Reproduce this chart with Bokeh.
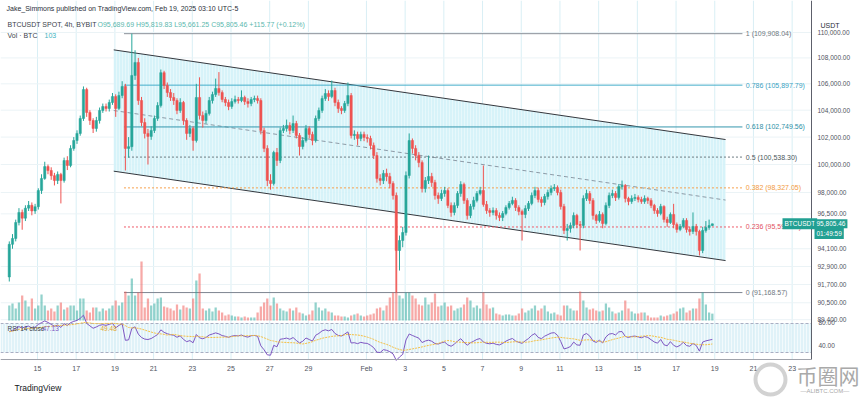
import numpy as np
import pandas as pd
from bokeh.plotting import figure
from bokeh.models import Range1d, LinearScale, ColumnDataSource, Label, BoxAnnotation
from bokeh.core.properties import value
from bokeh.embed import file_html
from bokeh.resources import INLINE

# ---------------- data (prices in thousands of USDT) ----------------
candle_start = "2025-01-13 13:00"   # first 4h candle (UTC-5)
first_open_k = 92.20
close_k = [
    94.40, 94.80, 95.90, 96.60, 96.20, 96.90, 97.10, 96.70, 97.00, 98.14,
    99.00, 99.85, 99.57, 99.20, 98.85, 99.29, 98.85, 100.29, 99.93, 101.17,
    101.75, 102.27, 103.38, 105.56, 103.83, 103.23, 102.64, 103.23, 103.98, 104.28,
    104.13, 104.58, 105.03, 104.13, 105.11, 105.80, 101.17, 101.30, 106.64, 107.65,
    104.73, 103.08, 102.27, 102.05, 102.49, 103.38, 104.35, 106.86, 105.88, 105.33,
    104.96, 104.73, 103.98, 104.58, 103.23, 102.27, 102.64, 101.75, 104.96, 103.61,
    103.23, 103.76, 104.73, 105.18, 105.64, 105.33, 104.81, 104.58, 104.28, 104.65,
    104.81, 104.73, 104.96, 104.65, 104.50, 104.81, 104.88, 104.73, 102.49, 101.17,
    98.85, 98.64, 100.87, 100.29, 102.49, 102.64, 102.86, 102.49, 103.00, 102.12,
    101.31, 101.75, 102.64, 102.20, 101.75, 103.38, 103.98, 104.88, 105.26, 105.03,
    105.49, 104.58, 104.13, 103.98, 104.50, 105.11, 102.12, 102.20, 101.90, 102.20,
    101.97, 101.90, 101.39, 100.65, 98.99, 98.85, 99.36, 99.14, 98.64, 97.79,
    93.98, 94.66, 95.21, 99.21, 101.75, 101.17, 100.65, 100.14, 98.28, 98.85,
    99.14, 98.71, 97.79, 97.58, 97.93, 98.14, 97.09, 96.60, 97.09, 97.93,
    98.57, 97.44, 96.39, 97.02, 97.44, 97.93, 98.14, 97.16, 96.73, 96.60,
    96.73, 96.39, 96.25, 96.53, 96.94, 97.23, 97.44, 96.94, 96.67, 96.46,
    96.87, 97.23, 97.79, 98.14, 97.51, 97.30, 97.72, 98.00, 98.28, 98.35,
    98.00, 97.02, 95.35, 95.49, 95.70, 96.39, 95.76, 95.70, 97.58, 97.93,
    97.44, 96.39, 96.04, 96.46, 95.83, 97.09, 97.79, 97.93, 97.65, 98.42,
    98.49, 97.58, 97.37, 97.58, 97.65, 97.51, 97.37, 97.58, 97.44, 97.09,
    96.73, 96.53, 97.02, 96.11, 95.90, 96.46, 95.76, 95.42, 95.63, 96.04,
    95.42, 95.28, 95.63, 95.28, 93.98, 95.35, 95.56, 95.68969, 95.80546,
]
high_k = [
    94.60, 95.10, 96.10, 96.90, 96.80, 97.10, 97.40, 97.30, 97.20, 98.30,
    99.30, 100.20, 100.00, 99.80, 99.40, 99.50, 99.40, 100.50, 100.60, 101.40,
    102.00, 102.50, 103.60, 105.80, 105.70, 104.00, 103.40, 103.50, 104.20, 104.50,
    104.50, 104.80, 105.30, 105.20, 105.40, 106.20, 106.00, 102.00, 109.91, 108.60,
    108.00, 105.00, 103.40, 102.60, 102.80, 103.60, 104.60, 107.10, 107.00, 106.10,
    105.60, 105.30, 104.90, 104.90, 104.70, 103.40, 102.90, 102.80, 106.00, 106.50,
    103.90, 104.00, 105.00, 105.40, 106.40, 106.90, 105.50, 105.00, 104.80, 104.90,
    105.10, 105.00, 105.50, 105.10, 104.90, 105.00, 105.10, 105.10, 104.90, 102.70,
    101.40, 99.30, 101.00, 101.20, 102.70, 102.90, 103.30, 103.10, 103.60, 103.20,
    102.30, 102.00, 102.90, 102.80, 102.40, 103.60, 104.20, 105.10, 105.60, 105.50,
    106.25, 105.70, 104.80, 104.30, 104.70, 106.10, 105.30, 102.50, 102.40, 102.40,
    102.40, 102.20, 102.10, 101.60, 100.90, 99.30, 99.60, 99.70, 99.40, 98.80,
    98.00, 95.00, 95.60, 99.50, 102.27, 101.90, 101.40, 100.90, 100.30, 99.10,
    100.65, 99.40, 98.90, 98.00, 98.20, 98.40, 98.30, 97.30, 97.30, 98.10,
    98.80, 98.70, 97.60, 97.20, 97.70, 98.10, 98.40, 99.93, 97.40, 96.90,
    96.95, 96.90, 96.60, 96.70, 97.10, 97.40, 97.70, 97.60, 97.10, 96.80,
    97.10, 97.40, 98.00, 98.40, 98.35, 97.70, 97.90, 98.20, 98.50, 98.60,
    98.50, 98.20, 97.20, 95.80, 95.90, 96.60, 96.50, 96.00, 97.80, 98.20,
    98.10, 97.60, 96.50, 96.70, 96.60, 97.30, 98.00, 98.20, 98.10, 98.60,
    98.85, 98.60, 97.70, 97.80, 97.90, 97.80, 97.70, 97.80, 97.70, 97.60,
    97.20, 96.90, 97.20, 97.10, 96.30, 96.60, 97.20, 95.90, 95.80, 96.20,
    96.20, 95.60, 96.60, 95.80, 95.40, 95.60, 96.00, 96.10, 95.81983,
]
low_k = [
    91.90, 94.10, 94.60, 95.70, 95.40, 96.00, 96.70, 96.40, 96.50, 96.80,
    97.90, 98.90, 99.30, 98.90, 98.50, 98.60, 97.23, 98.70, 99.60, 99.80,
    101.00, 101.50, 102.10, 103.20, 103.50, 102.90, 102.30, 102.40, 103.00, 103.80,
    103.90, 103.90, 104.40, 103.50, 104.00, 104.90, 99.57, 100.50, 101.00, 106.30,
    104.40, 102.80, 101.90, 100.00, 101.80, 102.30, 103.20, 104.20, 105.60, 105.00,
    104.70, 104.40, 103.70, 103.80, 102.90, 101.80, 102.00, 101.00, 101.60, 103.30,
    102.70, 103.00, 103.60, 104.50, 105.00, 105.10, 104.60, 104.30, 104.00, 104.10,
    104.50, 104.50, 104.60, 104.40, 104.20, 104.30, 104.60, 104.50, 102.20, 100.90,
    98.45, 98.20, 98.50, 99.90, 100.10, 102.30, 102.40, 102.20, 102.30, 101.90,
    100.65, 101.10, 101.60, 101.90, 101.40, 101.60, 103.20, 103.80, 104.70, 104.70,
    104.90, 104.30, 103.80, 103.70, 103.80, 104.30, 101.90, 101.80, 101.39, 101.70,
    101.70, 101.60, 101.10, 100.40, 98.70, 98.50, 98.60, 98.80, 98.30, 97.50,
    91.17, 92.63, 94.20, 95.00, 99.00, 100.80, 100.30, 99.80, 98.00, 98.00,
    98.60, 98.40, 97.50, 97.20, 97.40, 97.70, 96.90, 96.30, 96.40, 96.90,
    97.70, 97.20, 96.10, 96.20, 96.80, 97.30, 97.80, 97.00, 96.50, 96.30,
    96.40, 96.10, 96.00, 96.00, 96.40, 96.80, 97.10, 96.70, 96.40, 94.66,
    96.20, 96.70, 97.10, 97.60, 97.30, 97.00, 97.10, 97.50, 97.80, 98.10,
    97.80, 96.80, 95.10, 94.66, 95.20, 95.50, 95.50, 93.98, 95.50, 97.40,
    97.20, 96.10, 95.80, 95.90, 95.50, 95.70, 96.90, 97.60, 97.40, 97.50,
    98.20, 97.30, 97.10, 97.20, 97.40, 97.30, 97.20, 97.20, 97.20, 96.90,
    96.50, 96.30, 96.40, 95.90, 95.60, 95.80, 95.50, 95.20, 95.30, 95.50,
    95.20, 95.00, 95.10, 95.00, 93.64, 93.80, 95.20, 95.40, 95.66125,
]
volume_btc = [
    225, 255, 180, 270, 375, 300, 210, 330, 180, 225,
    390, 225, 150, 180, 135, 225, 270, 165, 195, 225,
    225, 150, 330, 330, 150, 120, 195, 195, 135, 180,
    150, 180, 225, 300, 225, 270, 435, 375, 630, 375,
    420, 885, 195, 330, 225, 255, 330, 345, 210, 195,
    180, 150, 240, 165, 225, 195, 180, 330, 600, 705,
    180, 150, 180, 135, 195, 150, 120, 75, 90, 75,
    60, 60, 45, 60, 45, 45, 45, 120, 210, 270,
    330, 225, 345, 255, 180, 150, 135, 180, 150, 195,
    120, 105, 75, 90, 150, 270, 195, 150, 180, 135,
    120, 75, 75, 60, 60, 45, 75, 90, 105, 75,
    60, 75, 90, 105, 180, 195, 150, 225, 345, 420,
    1050, 375, 330, 420, 420, 375, 330, 240, 225, 345,
    240, 270, 405, 210, 225, 270, 210, 225, 150, 180,
    195, 240, 345, 300, 195, 225, 180, 420, 240, 180,
    195, 105, 90, 75, 90, 90, 75, 75, 105, 180,
    120, 150, 180, 225, 150, 180, 225, 135, 105, 120,
    90, 75, 225, 225, 180, 150, 150, 435, 300, 195,
    165, 180, 150, 135, 150, 255, 195, 135, 105, 120,
    150, 300, 180, 135, 105, 105, 120, 120, 75, 45,
    45, 45, 75, 60, 75, 90, 105, 135, 180, 195,
    120, 150, 180, 180, 330, 420, 240, 120, 103,
]
assert len(close_k) == len(high_k) == len(low_k) == len(volume_btc)

# Fibonacci retracement drawing
fib_low = 91168.57
fib_high = 109908.04
fib_levels = [0, 0.236, 0.382, 0.5, 0.618, 0.786, 1]
fib_line_colors = ["#7d8590", "#ef5a68", "#f7a04b", "#6b7a80", "#3597ad", "#45aecb", "#8a9099"]
fib_text_colors = ["#6f7880", "#e2505e", "#f29a3e", "#4b575c", "#2e8fa6", "#3aa2c2", "#6f7880"]
fib_dashes = ["solid", "2 2", "2 2", "2 2", "solid", "solid", "solid"]
fib_anchor_times = ["2025-01-19 11:15", "2025-02-20 10:20"]
fib_label_time = "2025-02-20 14:30"

# Parallel channel drawing (anchors)
channel_times = ["2025-01-18 22:35", "2025-02-19 13:25"]
channel_upper = [108630, 101820]
channel_lower = [99520, 93300]

# Axes
price_ticks = [89400, 90500, 91700, 92900, 94100, 96500, 98000, 100000,
               102000, 104000, 106000, 108000, 110000]
rsi_ticks = [80, 40]
date_tick_dates = ["2025-01-15", "2025-01-17", "2025-01-19", "2025-01-21", "2025-01-23",
                   "2025-01-25", "2025-01-27", "2025-01-29", "2025-02-01", "2025-02-03",
                   "2025-02-05", "2025-02-07", "2025-02-09", "2025-02-11", "2025-02-13",
                   "2025-02-15", "2025-02-17", "2025-02-19", "2025-02-21", "2025-02-23"]
date_tick_labels = ["15", "17", "19", "21", "23", "25", "27", "29", "Feb", "3",
                    "5", "7", "9", "11", "13", "15", "17", "19", "21", "23"]
last_price = 95805.46

# ---------------- scales / layout helpers (screen geometry) ----------------
W, H = 860, 397
PX_PER_DAY, X_DAY0 = 19.35, 37.0          # page x of Jan 15 00:00
P_REF, Y_REF, PX_PER_LN = 98000.0, 192.0, 1385.0   # log price scale
PANE_RIGHT, PANE_BOTTOM, VOL_BASE = 811, 359, 320
RSI_HI_Y, RSI_LO_Y = 323, 352             # pixel rows of RSI 70 / 30
VOL_PER_PX = 15.0

def day_at(x): return (x - X_DAY0) / PX_PER_DAY
def price_at(y): return P_REF * np.exp((Y_REF - y) / PX_PER_LN)
RSI_PX = (RSI_LO_Y - RSI_HI_Y) / 40.0
def rsi_at(y): return 30 - (y - RSI_LO_Y) / RSI_PX
def vol_at(y): return (VOL_BASE - y) * VOL_PER_PX

REF = pd.Timestamp("2025-01-15")
def to_day(s): return (pd.Timestamp(s) - REF) / pd.Timedelta("1D")

# ---------------- derived ----------------
n = len(close_k)
times = pd.date_range(candle_start, periods=n, freq="4h")
t = ((times - REF) / pd.Timedelta("1D")).to_numpy()
close = np.array(close_k) * 1000
high = np.array(high_k) * 1000
low = np.array(low_k) * 1000
open_ = np.concatenate([[first_open_k * 1000], close[:-1]])
up = close >= open_
UP, DN = "#26a69a", "#ef5350"
colors = [UP if u else DN for u in up]
src = ColumnDataSource(dict(
    t=t, h=high, l=low, top=np.maximum(open_, close), bottom=np.minimum(open_, close),
    color=colors, vol=volume_btc))

# RSI(14), Wilder smoothing, seeded neutral
diff = np.diff(close, prepend=first_open_k * 1000)
ag = al = 400.0
rsi = []
for d in diff:
    ag = (ag * 13 + max(d, 0)) / 14
    al = (al * 13 + max(-d, 0)) / 14
    rsi.append(100 - 100 / (1 + ag / al))
rsi_ma = pd.Series(rsi).rolling(14, min_periods=1).mean().to_numpy()

# ---------------- figure (frame = whole canvas) ----------------
FONT = "Liberation Sans"
p = figure(width=W, height=H, x_range=Range1d(day_at(0), day_at(W)),
           y_range=Range1d(price_at(H), price_at(0)), y_axis_type="log",
           x_axis_location=None, y_axis_location=None,
           toolbar_location=None, output_backend="svg",
           min_border_left=0, min_border_right=0, min_border_top=0, min_border_bottom=0)
p.extra_y_ranges = {"vol": Range1d(vol_at(H), vol_at(0)), "rsi": Range1d(rsi_at(H), rsi_at(0))}
p.extra_y_scales = {"vol": LinearScale(), "rsi": LinearScale()}
p.outline_line_color = None
p.background_fill_color = "white"
p.border_fill_color = "white"
p.xgrid.visible = False
p.ygrid.visible = False

x_left, x_right = day_at(0), day_at(PANE_RIGHT)
rsi_top, rsi_bottom = rsi_at(0), rsi_at(PANE_BOTTOM)
tick_days = [to_day(d) for d in date_tick_dates]

# grid
p.segment(x0=tick_days, x1=tick_days, y0=[rsi_bottom] * len(tick_days),
          y1=[rsi_top] * len(tick_days), y_range_name="rsi", line_color="#d9eff5", line_width=1)
p.segment(x0=[x_left] * len(price_ticks), x1=[x_right] * len(price_ticks),
          y0=price_ticks, y1=price_ticks, line_color="#ebf3f6", line_width=1)

# RSI pane band
p.add_layout(BoxAnnotation(left=x_left, right=x_right, bottom=30, top=70, y_range_name="rsi",
                           fill_color="#e0f2f8", fill_alpha=1, hatch_pattern="vertical_line",
                           hatch_color="white", hatch_alpha=0.6, hatch_scale=3, hatch_weight=1,
                           line_color=None, level="underlay"))
p.segment(x0=[x_left, x_left], x1=[x_right, x_right], y0=[70, 30], y1=[70, 30],
          y_range_name="rsi", line_color="#a9aec2", line_dash="3 2", line_width=1)

# Parallel channel
ct = [to_day(s) for s in channel_times]
p.patch(x=[ct[0], ct[1], ct[1], ct[0]],
        y=[channel_upper[0], channel_upper[1], channel_lower[1], channel_lower[0]],
        fill_color="#d3f2f8", fill_alpha=0.9, hatch_pattern="vertical_line",
        hatch_color="white", hatch_alpha=0.4, hatch_scale=3, hatch_weight=1,
        line_color=None)
p.line(ct, channel_upper, line_color="#34373d", line_width=1)
p.line(ct, channel_lower, line_color="#34373d", line_width=1)
mid = [float(np.sqrt(a * b)) for a, b in zip(channel_upper, channel_lower)]
p.line(ct, mid, line_color="#8c9aa6", line_width=1, line_dash="4 3")

# Fibonacci levels
ft = [to_day(s) for s in fib_anchor_times]
flt = to_day(fib_label_time)
for lvl, lc, tc, dash in zip(fib_levels, fib_line_colors, fib_text_colors, fib_dashes):
    price = fib_low + lvl * (fib_high - fib_low)
    p.line(ft, [price, price], line_color=lc, line_width=1, line_dash=dash)
    p.text(x=[flt], y=[price], text=[f"{lvl:g} ({price:,.2f})"],
           text_font=value(FONT), text_font_size="7px", text_color=tc,
           text_baseline="middle", text_align="left")

# Volume
p.vbar(x="t", top="vol", bottom=0, width=0.7 / 6, source=src, y_range_name="vol",
       fill_color="color", line_color=None, fill_alpha=0.5)

# Candles
p.segment(x0="t", x1="t", y0="l", y1="h", source=src, line_color="color", line_width=1)
p.vbar(x="t", top="top", bottom="bottom", width=0.7 / 6, source=src,
       fill_color="color", line_color="color", line_width=0.5)

# RSI lines
p.line(t, rsi, y_range_name="rsi", line_color="#7e57c2", line_width=1)
p.line(t, rsi_ma, y_range_name="rsi", line_color="#f5bf42", line_width=1, line_dash="2 1")

# axis lines
p.segment(x0=[x_right], x1=[x_right], y0=[rsi_bottom], y1=[rsi_top], y_range_name="rsi",
          line_color="#5d606b", line_width=1)
p.segment(x0=[x_left], x1=[x_right], y0=[rsi_bottom], y1=[rsi_bottom], y_range_name="rsi",
          line_color="#a0a3ab", line_width=1)

# axis tick labels (through the scales)
p.text(x=[day_at(PANE_RIGHT + 6)] * len(price_ticks), y=price_ticks,
       text=[f"{v:,.2f}" for v in price_ticks], text_font=value(FONT),
       text_font_size="6.5px", text_color="#50535e", text_baseline="middle", text_align="left")
p.text(x=[day_at(PANE_RIGHT + 7)] * 2, y=[rsi_at(322), rsi_at(345)],
       text=[f"{v:.2f}" for v in rsi_ticks], y_range_name="rsi", text_font=value(FONT),
       text_font_size="6.5px", text_color="#50535e", text_baseline="middle", text_align="left")
p.text(x=tick_days, y=[rsi_at(368)] * len(tick_days), text=date_tick_labels,
       y_range_name="rsi", text_font=value(FONT), text_font_size="7px",
       text_color="#50535e", text_baseline="middle", text_align="center")

# ---------------- free texts ----------------
def lab(px, py, text, size="7px", color="#2a2e39", font=FONT, **kw):
    p.add_layout(Label(x=px, y=H - py, x_units="screen", y_units="screen", text=text,
                       text_font=font, text_font_size=size, text_color=color,
                       text_baseline="middle", **kw))

lab(6, 8, "Jake_Simmons published on TradingView.com, Feb 19, 2025 03:10 UTC-5", "7px", "#2a2e39")
lab(7, 24, "BTCUSDT SPOT, 4h, BYBIT", "7px", "#3b3f4a")
lab(97, 24, "O95,689.69  H95,819.83  L95,661.25  C95,805.46  +115.77 (+0.12%)", "7px", "#5cb8ae")
lab(7, 35, "Vol · BTC", "7px", "#3b3f4a")
lab(44, 35, "103", "7px", "#3fb3c0")
lab(7, 328, "RSI 14 close", "6.5px", "#3b3f4a")
lab(42, 328, "47.13", "6.5px", "#7e57c2")
lab(100, 328, "49.48", "6.5px", "#e0a82e")
lab(820, 25, "USDT", "7px", "#2a2e39")
lab(14, 387, "TradingView", "8.5px", "#131722")
lab(796, 374, "币圈网", "21px", "#a9a9a9", font="Noto Sans CJK SC")
lab(800, 390, "—ALIBTC.COM—", "6px", "#a9a9a9")

# watermark coin ring
p.annulus(x=[day_at(770)], y=[price_at(379)], inner_radius=13, outer_radius=17,
          inner_radius_units="screen", outer_radius_units="screen",
          fill_color="#b4b4b4", fill_alpha=0.6, line_color=None)

# last price tags
p.add_layout(Label(x=782, y=last_price, x_units="screen", y_units="data", text="BTCUSDT",
                   text_font=FONT, text_font_size="6.5px", text_color="white",
                   text_baseline="middle", background_fill_color="#22a093", padding=2))
p.add_layout(Label(x=814, y=last_price, x_units="screen", y_units="data",
                   text="95,805.46", text_font=FONT, text_font_size="6.5px",
                   text_color="white", text_baseline="middle",
                   background_fill_color="#22a093", padding=2))
p.add_layout(Label(x=814, y=H - 233, x_units="screen", y_units="screen",
                   text="01:49:59", text_font=FONT, text_font_size="6.5px",
                   text_color="white", text_baseline="middle",
                   background_fill_color="#22a093", padding=2))

open("out.html", "w").write(file_html(p, INLINE))
